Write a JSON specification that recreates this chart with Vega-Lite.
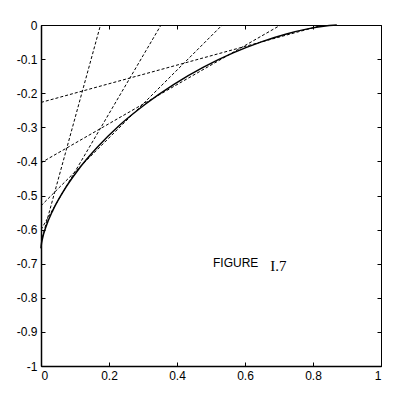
{
  "$schema": "https://vega.github.io/schema/vega-lite/v6.json",
  "width": 340,
  "height": 341,
  "autosize": "none",
  "padding": {"left": 41, "top": 25, "right": 29, "bottom": 28},
  "background": "white",
  "config": {
    "view": {"stroke": "black", "strokeWidth": 1},
    "axis": {
      "grid": false,
      "domain": false,
      "tickColor": "black",
      "tickSize": -4,
      "labelFont": "Liberation Sans",
      "labelFontSize": 12,
      "labelColor": "black",
      "title": null
    }
  },
  "datasets": {
    "curve": [
      {"x": 0.0, "y": -0.655},
      {"x": 0.00058, "y": -0.6475},
      {"x": 0.00455, "y": -0.6256},
      {"x": 0.0151, "y": -0.5903},
      {"x": 0.0348, "y": -0.5435},
      {"x": 0.0657, "y": -0.4876},
      {"x": 0.109, "y": -0.425},
      {"x": 0.1642, "y": -0.36},
      {"x": 0.231, "y": -0.294},
      {"x": 0.3076, "y": -0.2316},
      {"x": 0.391, "y": -0.174},
      {"x": 0.478, "y": -0.1236},
      {"x": 0.565, "y": -0.0819},
      {"x": 0.648, "y": -0.0494},
      {"x": 0.722, "y": -0.0262},
      {"x": 0.784, "y": -0.0114},
      {"x": 0.831, "y": -0.0034},
      {"x": 0.86, "y": -0.0004},
      {"x": 0.87, "y": 0.0}
    ],
    "lines": [
      {"id": "A", "x": 0.0, "y": -0.227},
      {"id": "A", "x": 0.83, "y": 0.0},
      {"id": "B", "x": 0.0, "y": -0.404},
      {"id": "B", "x": 0.705, "y": 0.0},
      {"id": "C", "x": 0.0, "y": -0.53},
      {"id": "C", "x": 0.533, "y": 0.0},
      {"id": "D", "x": 0.0, "y": -0.6},
      {"id": "D", "x": 0.353, "y": 0.0},
      {"id": "E", "x": 0.0, "y": -0.637},
      {"id": "E", "x": 0.175, "y": 0.0}
    ],
    "label1": [{"x": 0.506, "y": -0.698, "t": "FIGURE"}],
    "label2": [{"x": 0.674, "y": -0.706, "t": "I.7"}]
  },
  "layer": [
    {
      "data": {"name": "lines"},
      "mark": {"type": "line", "color": "black", "strokeWidth": 1, "strokeDash": [3, 2], "clip": true},
      "encoding": {
        "x": {"field": "x", "type": "quantitative", "scale": {"domain": [0, 1], "nice": false, "zero": false},
              "axis": {"orient": "bottom", "values": [0, 0.2, 0.4, 0.6, 0.8, 1], "labelExpr": "'' + datum.value", "labelPadding": 8, "domain": true, "domainColor": "black", "domainWidth": 1.5}},
        "y": {"field": "y", "type": "quantitative", "scale": {"domain": [-1, 0], "nice": false, "zero": false},
              "axis": {"orient": "left", "values": [-1, -0.9, -0.8, -0.7, -0.6, -0.5, -0.4, -0.3, -0.2, -0.1, 0], "labelExpr": "'' + datum.value", "labelPadding": 8, "domain": true, "domainColor": "black", "domainWidth": 1.5}},
        "detail": {"field": "id"}
      }
    },
    {
      "data": {"name": "curve"},
      "mark": {"type": "line", "color": "black", "strokeWidth": 1.5, "interpolate": "monotone"},
      "encoding": {
        "x": {"field": "x", "type": "quantitative",
              "axis": {"orient": "top", "values": [0, 0.2, 0.4, 0.6, 0.8, 1], "labels": false}},
        "y": {"field": "y", "type": "quantitative",
              "axis": {"orient": "right", "values": [-1, -0.9, -0.8, -0.7, -0.6, -0.5, -0.4, -0.3, -0.2, -0.1, 0], "labels": false}}
      }
    },
    {
      "data": {"name": "label1"},
      "mark": {"type": "text", "align": "left", "baseline": "middle", "color": "black", "font": "Liberation Sans", "fontSize": 12},
      "encoding": {
        "x": {"field": "x", "type": "quantitative", "axis": null},
        "y": {"field": "y", "type": "quantitative", "axis": null},
        "text": {"field": "t"}
      }
    },
    {
      "data": {"name": "label2"},
      "mark": {"type": "text", "align": "left", "baseline": "middle", "color": "black", "font": "Liberation Serif", "fontSize": 15},
      "encoding": {
        "x": {"field": "x", "type": "quantitative", "axis": null},
        "y": {"field": "y", "type": "quantitative", "axis": null},
        "text": {"field": "t"}
      }
    }
  ],
  "resolve": {"axis": {"x": "independent", "y": "independent"}}
}
